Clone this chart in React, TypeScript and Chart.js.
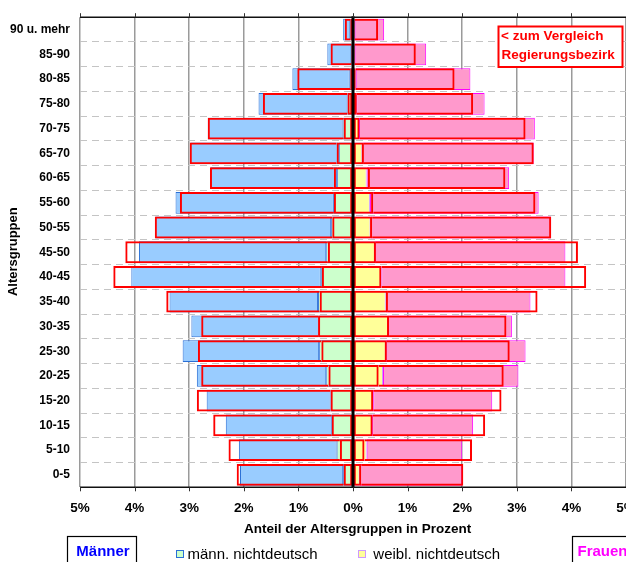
import React, { useEffect, useRef } from "react";
import { Chart, registerables } from "chart.js";

Chart.register(...registerables);

const FONT = "'Liberation Sans', Arial, Helvetica, sans-serif";

// Age groups, youngest first (drawn bottom to top)
const ageGroups = [
  "0-5", "5-10", "10-15", "15-20", "20-25", "25-30", "30-35", "35-40", "40-45",
  "45-50", "50-55", "55-60", "60-65", "65-70", "70-75", "75-80", "80-85", "85-90", "90 u. mehr",
];

// Local population, share in percent (total and non-German part)
const menTotal = [2.07, 2.09, 2.33, 2.68, 2.86, 3.12, 2.96, 3.36, 4.06, 3.92, 3.62, 3.25, 2.61, 2.98, 2.66, 1.73, 1.11, 0.47, 0.18];
const menForeign = [0.18, 0.30, 0.38, 0.41, 0.49, 0.62, 0.63, 0.64, 0.59, 0.49, 0.40, 0.35, 0.29, 0.26, 0.19, 0.10, 0.06, 0.03, 0.05];
const womenTotal = [2.00, 2.00, 2.20, 2.55, 3.03, 3.16, 2.91, 3.25, 3.89, 3.89, 3.63, 3.40, 2.86, 3.31, 3.33, 2.41, 2.15, 1.34, 0.57];
const womenForeign = [0.12, 0.25, 0.35, 0.37, 0.55, 0.60, 0.64, 0.60, 0.52, 0.40, 0.32, 0.31, 0.25, 0.17, 0.11, 0.06, 0.05, 0.03, 0.03];

// Regierungsbezirk (comparison outlines)
const regMenTotal = [2.13, 2.28, 2.56, 2.86, 2.78, 2.84, 2.78, 3.42, 4.39, 4.17, 3.63, 3.17, 2.62, 2.99, 2.66, 1.65, 1.02, 0.41, 0.15];
const regMenForeign = [0.17, 0.24, 0.39, 0.41, 0.45, 0.58, 0.64, 0.61, 0.57, 0.46, 0.38, 0.35, 0.35, 0.30, 0.17, 0.10, 0.05, 0.03, 0.05];
const regWomenTotal = [2.02, 2.18, 2.42, 2.72, 2.76, 2.87, 2.81, 3.38, 4.27, 4.12, 3.63, 3.34, 2.79, 3.31, 3.16, 2.20, 1.86, 1.15, 0.46];
const regWomenForeign = [0.15, 0.21, 0.36, 0.37, 0.47, 0.62, 0.66, 0.64, 0.52, 0.42, 0.35, 0.37, 0.31, 0.20, 0.12, 0.07, 0.05, 0.03, 0.03];

const xTickValues = [-5, -4, -3, -2, -1, 0, 1, 2, 3, 4, 5];

const CHART_TOP = 16;
const CHART_BOTTOM = 487.3;
const CANVAS_W = 700;
const CANVAS_H = 562;

const decorPlugin = {
  id: "decor",
  afterDatasetsDraw(chart: any) {
    const { ctx, chartArea, scales } = chart;
    const { left, right, top, bottom } = chartArea;
    const x = scales.x;
    ctx.save();
    // zero line
    const x0 = x.getPixelForValue(0);
    ctx.strokeStyle = "#000";
    ctx.lineWidth = 3;
    ctx.beginPath();
    ctx.moveTo(x0, top - 1);
    ctx.lineTo(x0, bottom);
    ctx.stroke();
    // top / bottom borders
    ctx.lineWidth = 1.5;
    ctx.strokeStyle = "#111";
    ctx.beginPath();
    ctx.moveTo(left, top);
    ctx.lineTo(right, top);
    ctx.moveTo(left, bottom);
    ctx.lineTo(right, bottom);
    ctx.stroke();
    // tick marks
    ctx.lineWidth = 1;
    ctx.strokeStyle = "#333";
    ctx.beginPath();
    for (const v of xTickValues) {
      const px = Math.round(x.getPixelForValue(v)) + 0.5;
      ctx.moveTo(px, top - 4);
      ctx.lineTo(px, top);
      ctx.moveTo(px, bottom);
      ctx.lineTo(px, bottom + 4);
    }
    ctx.stroke();
    // comparison note
    ctx.fillStyle = "#fff";
    ctx.fillRect(498, 26, 124, 41);
    ctx.strokeStyle = "#ff0000";
    ctx.lineWidth = 2;
    ctx.strokeRect(498.5, 26.5, 124, 40.5);
    ctx.fillStyle = "#ff0000";
    ctx.font = `bold 13.5px ${FONT}`;
    ctx.textAlign = "left";
    ctx.textBaseline = "alphabetic";
    ctx.fillText("< zum Vergleich", 501, 39.5);
    ctx.fillText("Regierungsbezirk", 501.5, 58.5);
    ctx.restore();
  },
  afterDraw(chart: any) {
    const { ctx } = chart;
    ctx.save();
    // axis titles
    ctx.fillStyle = "#000";
    ctx.font = `bold 13.5px ${FONT}`;
    ctx.textAlign = "center";
    ctx.textBaseline = "alphabetic";
    ctx.fillText("Anteil der Altersgruppen in Prozent", 357.7, 532.7);
    ctx.save();
    ctx.translate(16.5, 251.7);
    ctx.rotate(-Math.PI / 2);
    ctx.font = `bold 13px ${FONT}`;
    ctx.fillText("Altersgruppen", 0, 0);
    ctx.restore();

    // Männer box
    ctx.fillStyle = "#fff";
    ctx.fillRect(67.5, 536.5, 69, 40);
    ctx.strokeStyle = "#000";
    ctx.lineWidth = 1.2;
    ctx.strokeRect(67.5, 536.5, 69, 40);
    ctx.fillStyle = "#0000ff";
    ctx.font = `bold 15px ${FONT}`;
    ctx.textAlign = "center";
    ctx.fillText("Männer", 103, 556);

    // Frauen box
    ctx.fillStyle = "#fff";
    ctx.fillRect(572.5, 536.5, 100, 40);
    ctx.strokeRect(572.5, 536.5, 100, 40);
    ctx.fillStyle = "#ff00ff";
    ctx.textAlign = "left";
    ctx.fillText("Frauen", 577.5, 556);

    // legend entries
    ctx.lineWidth = 1;
    ctx.fillStyle = "#ccffcc";
    ctx.fillRect(176.5, 550.5, 7, 7);
    ctx.strokeStyle = "#2a6fd6";
    ctx.strokeRect(176.5, 550.5, 7, 7);
    ctx.fillStyle = "#ffff99";
    ctx.fillRect(358.5, 550.5, 7, 7);
    ctx.strokeStyle = "#cc99ff";
    ctx.strokeRect(358.5, 550.5, 7, 7);
    ctx.fillStyle = "#000";
    ctx.font = `15px ${FONT}`;
    ctx.textAlign = "left";
    ctx.fillText("männ. nichtdeutsch", 187.5, 558.5);
    ctx.fillText("weibl. nichtdeutsch", 373.3, 558.5);
    ctx.restore();
  },
};

export default function App() {
  const ref = useRef<HTMLCanvasElement>(null);

  useEffect(() => {
    const canvas = ref.current;
    if (!canvas) return;

    const red = "#ff0000";
    const clear = "rgba(0,0,0,0)";
    const common = { barPercentage: 0.88, categoryPercentage: 1, borderSkipped: false as const, grouped: false };

    const chart = new Chart(canvas, {
      type: "bar",
      data: {
        labels: ageGroups,
        datasets: [
          {
            label: "RB männ. nichtdeutsch",
            data: regMenForeign.map((v) => [0, -v]),
            backgroundColor: clear,
            borderColor: red,
            borderWidth: 2,
            order: 0,
            ...common,
          },
          {
            label: "RB männ. deutsch",
            data: regMenTotal.map((t, i) => [-regMenForeign[i], -t]),
            backgroundColor: clear,
            borderColor: red,
            borderWidth: { top: 2, bottom: 2, left: 2, right: 0 },
            order: 0,
            ...common,
          },
          {
            label: "RB weibl. nichtdeutsch",
            data: regWomenForeign.map((v) => [0, v]),
            backgroundColor: clear,
            borderColor: red,
            borderWidth: 2,
            order: 0,
            ...common,
          },
          {
            label: "RB weibl. deutsch",
            data: regWomenTotal.map((t, i) => [regWomenForeign[i], t]),
            backgroundColor: clear,
            borderColor: red,
            borderWidth: { top: 2, bottom: 2, left: 0, right: 2 },
            order: 0,
            ...common,
          },
          {
            label: "männ. nichtdeutsch",
            data: menForeign.map((v) => [0, -v]),
            backgroundColor: "#ccffcc",
            borderColor: "#2a6fd6",
            borderWidth: 1,
            order: 1,
            ...common,
          },
          {
            label: "männ. deutsch",
            data: menTotal.map((t, i) => [-menForeign[i], -t]),
            backgroundColor: "#99ccff",
            borderColor: "#2a6fd6",
            borderWidth: 1,
            order: 1,
            ...common,
          },
          {
            label: "weibl. nichtdeutsch",
            data: womenForeign.map((v) => [0, v]),
            backgroundColor: "#ffff99",
            borderColor: "#cc99ff",
            borderWidth: 1,
            order: 1,
            ...common,
          },
          {
            label: "weibl. deutsch",
            data: womenTotal.map((t, i) => [womenForeign[i], t]),
            backgroundColor: "#ff99cc",
            borderColor: "#ff00ff",
            borderWidth: 1,
            order: 1,
            ...common,
          },
        ],
      },
      options: {
        indexAxis: "y",
        responsive: false,
        maintainAspectRatio: false,
        devicePixelRatio: 1,
        animation: false,
        layout: { padding: { top: CHART_TOP, right: CANVAS_W - 626, bottom: 0, left: 0 } },
        plugins: {
          legend: { display: false },
          tooltip: { enabled: false },
          title: { display: false },
        },
        scales: {
          x: {
            type: "linear",
            min: -5,
            max: 5,
            afterBuildTicks: (s: any) => {
              s.ticks = xTickValues.map((v) => ({ value: v }));
            },
            afterFit: (s: any) => {
              s.height = CANVAS_H - CHART_BOTTOM;
            },
            ticks: {
              stepSize: 1,
              padding: 13,
              color: "#000",
              font: { family: FONT, size: 13.5, weight: "bold" },
              callback: (v: any) => `${Math.abs(Number(v))}%`,
            },
            grid: { color: "#9a9a9a", lineWidth: 1.5, drawTicks: false },
            border: { display: false },
          },
          y: {
            type: "category",
            reverse: true,
            afterFit: (s: any) => {
              s.width = 80;
            },
            ticks: {
              padding: 10,
              color: "#000",
              font: { family: FONT, size: 12, weight: "bold" },
            },
            grid: { color: "#c4c4c4", lineWidth: 1, drawTicks: false, offset: true },
            border: { display: false, dash: [7, 5] },
          },
        },
      },
      plugins: [decorPlugin],
    } as any);

    return () => chart.destroy();
  }, []);

  return (
    <div
      style={{
        position: "absolute",
        left: 0,
        top: 0,
        width: 626,
        height: 562,
        overflow: "hidden",
        background: "#fff",
      }}
    >
      <canvas
        ref={ref}
        width={CANVAS_W}
        height={CANVAS_H}
        style={{ display: "block", width: CANVAS_W, height: CANVAS_H }}
      />
    </div>
  );
}
